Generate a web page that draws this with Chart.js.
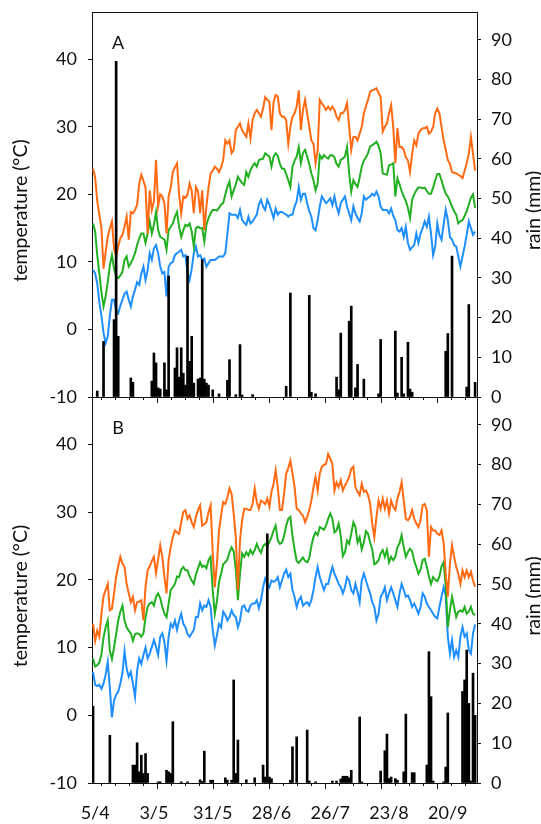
<!DOCTYPE html>
<html>
<head>
<meta charset="utf-8">
<script src="https://cdn.jsdelivr.net/npm/chart.js@4.4.1/dist/chart.umd.min.js"></script>
<style>
  html, body { margin: 0; padding: 0; background: #fff; }
  #wrap { position: relative; width: 541px; height: 824px; }
  canvas { position: absolute; left: 0; }
  #chartA { top: 0; }
  #chartB { top: 385px; }
</style>
</head>
<body>
<div id="wrap">
  <canvas id="chartA" width="541" height="420"></canvas>
  <canvas id="chartB" width="541" height="439"></canvas>
</div>
<script>
// days are counted from 5/4 (day 0); every series starts on day -1 (4/4), one value per day
const firstDay = -1;

// x axis labels and the days they sit on
const dateLabels = ['5/4', '3/5', '31/5', '28/6', '26/7', '23/8', '20/9'];
const labelDays = [0, 28, 56, 84, 112, 140, 168];
const tempTicks = [-10, 0, 10, 20, 30, 40];
const rainTicks = [0, 10, 20, 30, 40, 50, 60, 70, 80, 90];

// panel A - daily max / mean / min temperature (°C)
const tmaxA = [
  23.8, 22.5, 19, 17, 15, 9, 11.5, 13.7, 15, 16,
  12, 10.8, 12.3, 13.5, 14, 15.2, 16.7, 13.3, 17.4, 17.2,
  17.7, 18.5, 21.6, 22.9, 22, 21, 14.2, 20.6, 17.7, 19,
  25.1, 18.2, 20, 19.7, 18.7, 14.2, 19.7, 21, 23.3, 24,
  24.6, 20, 17.2, 19.7, 19.5, 20, 21.6, 20.5, 17.2, 21.1,
  20.5, 17.2, 20.6, 14.7, 18.2, 21, 23.1, 23.5, 24.1, 23.8,
  23.3, 24, 25.1, 28, 27.5, 28, 26.1, 26.6, 29.5, 30,
  30.5, 29.5, 29, 28.5, 30.5, 28.3, 31, 32, 32.5, 32,
  31.5, 32.7, 34.4, 34, 33.7, 29.5, 33.7, 34.7, 34.5, 32,
  31.5, 31.5, 31, 27.5, 30, 31.5, 32, 33, 35.4, 29.5,
  32.5, 34, 32, 30, 28, 27.5, 24.6, 26.6, 34, 33.5,
  33, 32.5, 33, 32.5, 33, 32.5, 31.5, 31, 32, 32,
  32.5, 33.5, 30, 26.6, 28.5, 28.5, 28, 29, 30, 32,
  33, 34, 35.2, 35.4, 35.5, 35.7, 35, 34.4, 29.3, 30,
  30.5, 32, 33.2, 30, 24.6, 29.8, 27, 27, 26.6, 25.5,
  25, 23.3, 26, 28, 27.3, 29, 29.5, 29.8, 29.8, 30,
  29, 29.3, 30, 32, 32.7, 32, 30, 28, 26.6, 25.1,
  24.5, 23.3, 23.2, 23.1, 22.9, 22.7, 22.4, 23.5, 24.6, 26,
  28.5, 26, 23.5
];
const tmeanA = [
  15.7, 14.5, 11, 8.3, 5.5, 3.4, 4.9, 7, 9.5, 11,
  9, 7.8, 7.6, 8, 8.5, 10.3, 10.8, 9.3, 9.8, 10.5,
  11.3, 12.5, 13.5, 14.2, 14.2, 12.8, 14.2, 16, 14.2, 15.5,
  17.4, 14.7, 13.7, 13.5, 13.3, 11.8, 14.7, 15.2, 15.7, 16.7,
  17.4, 15.2, 13.7, 14.7, 15.5, 15.3, 15.7, 14.5, 12.3, 15,
  15.2, 15, 15, 13, 15.5, 16.5, 17.2, 17.7, 17.7, 17.6,
  18, 18.5, 18.7, 20, 21.1, 21.9, 19.7, 20.6, 21.5, 22.6,
  22.1, 21.7, 21.4, 23.3, 22.6, 23.6, 24.2, 24.6, 24.1, 25.1,
  25.2, 25.3, 26.1, 25.8, 25.6, 24.1, 25.6, 26.1, 25.7, 24.5,
  23.8, 23.8, 23, 22.1, 21.1, 24.1, 25, 25.6, 27, 24.6,
  26.1, 26.6, 25.6, 24.5, 23.1, 22.1, 20.6, 21.6, 25.8, 25.3,
  25.8, 25.5, 25.3, 25.8, 25.8, 25.5, 24.5, 24.1, 25.1, 25.3,
  25.6, 27, 23.1, 20.4, 22.1, 21.5, 21.1, 22.5, 24.1, 25,
  25.5, 26.1, 27.1, 27.3, 27.5, 27.8, 27.2, 26.1, 23.1, 23,
  22.9, 24.3, 24.4, 24.6, 19.7, 22.4, 21.5, 20.5, 19.7, 19,
  18, 16.5, 19.2, 20, 20.6, 21, 21, 20.9, 21, 20.5,
  20.1, 20.1, 21, 22.1, 23, 23, 22.1, 21, 20.1, 19.7,
  19, 18.2, 17.5, 17, 15.7, 16, 16.2, 16.8, 17.5, 18.5,
  19.5, 20, 18
];
const tminA = [
  8.8, 8.3, 6.8, 4, 2, -0.5, -2, -1, 2, 4.4,
  4.4, 2.8, 2.4, 3.5, 4.4, 5.3, 5.6, 4.4, 3.4, 4.9,
  5.9, 7, 6.6, 8.3, 9.3, 7.3, 8.8, 11.3, 10.3, 12,
  12.5, 11.3, 9.3, 8.3, 8.5, 4.9, 9.3, 9.8, 10, 11,
  11.3, 11.5, 11.8, 10.8, 11, 8.3, 7.3, 9, 11.3, 12.3,
  10.8, 11, 10.3, 10.5, 9.3, 9.8, 10.3, 10.3, 10.3, 10.5,
  10.8, 10.8, 10.8, 11.3, 14.2, 17.2, 17, 17, 17, 16.5,
  17.7, 16.2, 15.8, 15.5, 16.7, 15.7, 16, 16.5, 17, 18.5,
  19.2, 18.2, 17.7, 19.2, 18.5, 17.5, 16.5, 17.9, 17, 17.4,
  17.4, 17.2, 17, 16.7, 17, 17, 18.2, 19, 21.1, 19.2,
  20.1, 20.1, 18.7, 17.5, 16.7, 15, 14.7, 16.2, 18.2, 19.7,
  19.2, 18.7, 19, 19.4, 18.4, 19.7, 18.2, 17.2, 18.7, 19.2,
  19.7, 18.2, 17.2, 16.2, 18.2, 17.2, 16.5, 16, 17.2, 19.7,
  19.2, 19.5, 19.7, 20.1, 19.8, 20.4, 19.7, 18.2, 17.7, 17.7,
  17.7, 17.2, 17.9, 16.8, 16.2, 14.7, 14.5, 15, 13.7, 15.2,
  12.8, 11.8, 12.2, 12.5, 14.2, 12.8, 14.2, 15, 16, 15.2,
  16.7, 14.2, 11, 12.3, 15.7, 14, 13.3, 15.5, 17.7, 16.2,
  13.7, 13.3, 12.5, 12.3, 10.8, 9.3, 10.8, 12.3, 14, 16,
  15, 14, 14.5
];
// panel A - rain (mm) on the days it fell
const rainDayA = [1, 4, 9, 10, 11, 17, 18, 27, 28, 29, 30, 31, 33, 34, 35,
  38, 39, 40, 41, 42, 43, 44, 45, 46, 47, 49, 50, 51, 52, 53, 54, 56, 59,
  63, 64, 67, 69, 70, 75, 91, 93, 102, 103, 105, 115, 116, 117, 121, 122,
  124, 125, 128, 135, 136, 143, 144, 146, 147, 149, 150, 151, 167, 168, 170,
  177, 178, 181];
const rainA = [1.5, 14, 19.5, 84.6, 15.3, 4.8, 3.7, 4, 11.1, 8.6, 2.3, 2, 8.6, 1.8, 30.5,
  7.3, 12.4, 5, 12.4, 6, 3, 35.5, 9, 15.3, 3.5, 4.5, 4.8, 34.6, 4.5, 3.5, 3, 1.8, 0.8,
  4.2, 9.4, 0.6, 13.2, 0.5, 0.6, 2.7, 26.2, 25.6, 1.2, 0.8, 5, 1.8, 16.1, 19.1, 22.9,
  2.3, 8.2, 4.5, 0.8, 14.5, 16.6, 1, 10, 0.8, 13.8, 2, 1.2, 11.5, 16, 35.5,
  2.5, 23.3, 3.7];

// panel B - daily max / mean / min temperature (°C)
const tmaxB = [
  13.5, 11, 12.5, 11.6, 15, 17.6, 18.5, 19.4, 15.5, 15.7,
  18, 20.5, 22, 23.4, 22.4, 21.9, 19.4, 18, 16.7, 17.5,
  15.5, 16.7, 16.8, 17, 14, 19, 21.4, 22, 22.8, 23.4,
  21, 23, 25.1, 23.4, 20.4, 18, 23, 24.8, 26.3, 27.3,
  27, 26.8, 28.5, 30, 30.3, 29, 29.5, 28.5, 27.8, 29.3,
  30.3, 31, 28, 28.2, 28.5, 30, 31, 24.1, 18.9, 22.4,
  27.3, 29.5, 31.5, 31.2, 32.2, 33.5, 32.7, 29.8, 26.3, 18.5,
  25.8, 28.8, 30.5, 30.5, 30.3, 30.3, 31.2, 33.5, 31.5, 30.5,
  31.7, 31.5, 31.2, 32, 30.8, 33, 34.2, 36.2, 33.7, 30.3,
  30.3, 32.7, 35.7, 36.5, 37.6, 35.7, 33.7, 30.5, 30.3, 29.8,
  29.5, 28.5, 29.3, 30.3, 31.7, 33.7, 35.2, 33.2, 35.7, 36.7,
  37, 37.1, 38.6, 37.9, 37.1, 33.2, 34.4, 33.7, 34.7, 33.2,
  33.9, 34.5, 35.2, 36.4, 36.7, 33.7, 33, 32.5, 34.2, 33,
  33.2, 32.5, 31.2, 28.3, 26.3, 29.3, 31.7, 30.5, 32, 30.5,
  31.7, 29.8, 31.7, 30.8, 30.3, 32, 33, 34.4, 31.7, 29,
  28.8, 29.3, 30.3, 29, 28.3, 27.8, 28.8, 31, 31.2, 30.3,
  23.4, 27.8, 27.3, 27.3, 26.8, 26.6, 27.3, 25.5, 21, 17.5,
  22.4, 25.1, 23.4, 21.9, 20.9, 19.4, 21.4, 20.4, 21.4, 20.4,
  21.2, 19.9, 19
];
const tmeanB = [
  8.4, 7.2, 7.4, 7.8, 9, 11.5, 13, 14, 9.5, 8.3,
  10, 12, 14, 15.3, 16.2, 14, 13, 12.5, 12.1, 11,
  12, 12.1, 12, 11.6, 12.1, 14.5, 16, 16.5, 16.7, 16.2,
  17.5, 18, 17.3, 16, 15, 14.5, 16.5, 18.5, 18.9, 19.4,
  20.5, 20.4, 21.5, 21.9, 21.4, 21.4, 20.5, 19.9, 19.4, 20.8,
  21.7, 22.6, 21.9, 22.1, 21.7, 22.9, 23.4, 18.5, 15, 16.8,
  19.7, 20.9, 22.3, 22.6, 23, 24.1, 24.8, 24.2, 21.5, 17,
  20.9, 23.9, 23.4, 24.1, 23.6, 24.4, 23.8, 24.4, 25.3, 24.5,
  24, 25, 25.3, 24.9, 25.6, 26.3, 27.3, 28, 25.8, 25.3,
  25.5, 26.5, 28, 29, 29.3, 26.5, 24.5, 22.8, 22.5, 22.9,
  23.3, 22.8, 22.6, 23.2, 25, 26.3, 27, 26.6, 27.8, 27.6,
  27.4, 28, 29, 29.8, 29, 27, 27.3, 28.3, 26.5, 23.5,
  24.1, 25.8, 25.3, 26.8, 28.5, 27.8, 25.5, 26.3, 24.5, 25.5,
  27.2, 26.8, 25.5, 24.5, 22.3, 22.5, 22.9, 23.9, 24.4, 23.4,
  24.4, 22.6, 23.4, 22.9, 23.4, 24.8, 25.4, 26.6, 24.8, 23.4,
  24.1, 24.6, 24.2, 22.8, 21.9, 20.9, 21.5, 22.9, 23.1, 21.9,
  20.5, 19.4, 20.4, 20, 19.8, 20.5, 22, 22.6, 19, 13,
  15.5, 17.5, 16, 14.5, 15.3, 15.5, 15.3, 16, 15, 15.3,
  16, 15, 14.8
];
const tminB = [
  6.4, 4.5, 4.3, 4.5, 3.9, 4.7, 6, 7.9, 4, -0.3,
  2.2, 3, 3.5, 4.7, 6.2, 9.5, 6.9, 5.7, 6.4, 4.7,
  2.7, 6.6, 8.4, 7.6, 8.9, 10, 8.4, 9.1, 10.1, 11.1,
  10.1, 8.9, 11.6, 12.1, 10.8, 8.1, 11.6, 13.5, 13, 14,
  12.6, 14, 15, 13.5, 13, 12, 11.6, 12.1, 12.6, 14.5,
  14.5, 16.5, 15.5, 16.2, 16, 17, 16, 12.6, 10.3, 11.8,
  13.5, 13, 15.3, 14.8, 14, 14.5, 15.5, 14.8, 14.5, 13,
  14, 16, 16.2, 15.5, 15.3, 16.2, 16.5, 16.5, 17, 15.8,
  17, 18.9, 20.2, 19.4, 18.9, 19.9, 19.7, 19.9, 20.4, 18.9,
  19.9, 20.9, 21.5, 20.4, 20.9, 18.5, 17.5, 16, 17, 17.5,
  16.2, 16.5, 16.7, 16.2, 17, 18.5, 20.4, 21.9, 20.4, 19.4,
  18.5, 19.4, 19.4, 20.7, 21.9, 20.9, 20.2, 19.4, 18.9, 18,
  18.9, 20.4, 19.9, 18.5, 18, 19.4, 18.2, 16.7, 19.9, 20.9,
  19.9, 18.9, 18, 16.7, 16, 14, 15, 17.5, 18, 18.9,
  17, 18, 18.9, 18, 17, 16, 18, 19.4, 18.5, 17.5,
  17.7, 17, 16, 16.5, 15.8, 15, 16, 18, 17.5, 16.5,
  16, 15.5, 15, 14.5, 14.3, 16, 17.5, 18.9, 17.7, 11.6,
  9.1, 11.1, 8.6, 9.6, 8.6, 11.6, 13, 11.6, 12.1, 9.6,
  9.1, 12.1, 13.4
];
// panel B - rain (mm)
const rainDayB = [-1, 7, 18, 19, 20, 21, 22, 23, 24, 25, 30, 31, 34, 35, 36, 37,
  41, 44, 50, 51, 52, 55, 56, 62, 63, 65, 66, 67, 68, 72, 76, 80, 81, 82, 83, 84,
  93, 94, 96, 101, 102, 105, 113, 115, 117, 118, 119, 120, 121, 122, 126, 127,
  136, 138, 139, 140, 141, 143, 144, 147, 148, 151, 152, 158, 159, 160, 161,
  166, 167, 168, 175, 176, 177, 178, 179, 180, 181];
const rainB = [19.3, 12, 4.5, 4.5, 10.1, 2.8, 7, 2.4, 7.4, 2.4, 0.3, 0.3, 3.2, 2.8, 2.4, 15.4,
  0.3, 0.3, 0.8, 0.4, 8, 0.7, 0.7, 1.3, 0.7, 0.7, 25.9, 2.4, 10.8, 0.8, 1.3, 4.5, 1.5, 62.6, 1.5, 1.1,
  0.7, 9.1, 11.6, 13.3, 0.5, 0.3, 0.5, 0.5, 1, 1.7, 1.7, 1.7, 1.3, 3.2, 16.6, 0.3,
  3, 8.1, 12.3, 1.1, 1.5, 1.1, 0.7, 2.8, 17.3, 2.6, 2.6, 4.5, 33, 21.7, 0.5,
  0.3, 4, 17.6, 23, 25.9, 33.4, 20, 0.5, 27.6, 17];

// small tick marks along the date axis (day of first mark, spacing in days)
const markStart = 2.65;
const markStep = 6.68;

const ORANGE = '#ff6a13';
const GREEN = '#22b022';
const BLUE = '#1f8fff';
const AXIS = '#111';
const TEXT = '#111';
const FONT = 'Lato, "Liberation Sans", sans-serif';

Chart.defaults.font.family = FONT;
Chart.defaults.font.size = 18;
Chart.defaults.color = TEXT;

function series(values) {
  return values.map((v, i) => ({ x: firstDay + i, y: v }));
}
function bars(days, values) {
  return days.map((d, i) => ({ x: d, y: values[i] }));
}
// stop chart.js from reserving room for half a tick label above / below the plot
function noEdgePad(s) {
  s.paddingTop = 0;
  s.paddingBottom = 0;
  s.paddingLeft = 0;
  s.paddingRight = 0;
}

// titles, panel letter, top frame and date-axis tick marks
const decor = {
  id: 'decor',
  afterDraw(chart, args, opts) {
    const ctx = chart.ctx;
    const ca = chart.chartArea;
    const sx = chart.scales.x;
    ctx.save();
    ctx.strokeStyle = AXIS;
    ctx.lineWidth = 1;
    if (opts.frameTop) {
      ctx.beginPath();
      ctx.moveTo(ca.left, Math.round(ca.top) + 0.5);
      ctx.lineTo(ca.right, Math.round(ca.top) + 0.5);
      ctx.stroke();
    }
    const yb = Math.round(ca.bottom);
    for (let k = 0; ; k++) {
      const d = markStart + k * markStep;
      if (d > sx.max) break;
      const px = Math.round(sx.getPixelForValue(d)) + 0.5;
      const len = (k > 0 && k % 4 === 0) ? 6 : 3;
      ctx.beginPath();
      ctx.moveTo(px, yb);
      ctx.lineTo(px, yb + len);
      ctx.stroke();
    }
    ctx.fillStyle = TEXT;
    ctx.font = '18px ' + FONT;
    ctx.textAlign = 'center';
    ctx.textBaseline = 'middle';
    ctx.fillText(opts.letter, ca.left + 26, ca.top + 31);
    ctx.font = '19.5px ' + FONT;
    const cy = (ca.top + ca.bottom) / 2 + 6;
    ctx.translate(21, cy);
    ctx.rotate(-Math.PI / 2);
    ctx.fillText('temperature (°C)', 0, 0);
    ctx.setTransform(1, 0, 0, 1, 0, 0);
    ctx.translate(534, cy);
    ctx.rotate(-Math.PI / 2);
    ctx.fillText('rain (mm)', 0, 0);
    ctx.restore();
  }
};

function makeChart(id, tmax, tmean, tmin, rainDays, rain, letter, showDates, topPad, xHeight) {
  return new Chart(document.getElementById(id), {
    type: 'line',
    data: {
      datasets: [
        { type: 'bar', data: bars(rainDays, rain), yAxisID: 'y1', backgroundColor: '#000',
          barThickness: 2, grouped: false, order: 0 },
        { data: series(tmax), borderColor: ORANGE, borderWidth: 2, pointRadius: 0, tension: 0, yAxisID: 'y', order: 1 },
        { data: series(tmean), borderColor: GREEN, borderWidth: 2, pointRadius: 0, tension: 0, yAxisID: 'y', order: 1 },
        { data: series(tmin), borderColor: BLUE, borderWidth: 2, pointRadius: 0, tension: 0, yAxisID: 'y', order: 1 }
      ]
    },
    options: {
      responsive: false,
      animation: false,
      events: [],
      layout: { padding: { top: topPad, left: 0, right: 0, bottom: 0 } },
      plugins: {
        legend: { display: false },
        tooltip: { enabled: false },
        decor: { letter: letter, frameTop: letter === 'A' }
      },
      scales: {
        x: {
          type: 'linear',
          min: -1.5,
          max: 181.9,
          offset: false,
          grid: { display: false, drawTicks: false },
          border: { display: true, color: AXIS, width: 1 },
          afterBuildTicks: (s) => { s.ticks = labelDays.map(d => ({ value: d })); },
          afterFit: (s) => { s.height = xHeight; noEdgePad(s); },
          ticks: {
            display: showDates,
            autoSkip: false,
            maxRotation: 0,
            padding: 19,
            color: TEXT,
            callback: (v) => dateLabels[labelDays.indexOf(v)]
          }
        },
        y: {
          position: 'left',
          min: -10,
          max: 47,
          afterBuildTicks: (s) => { s.ticks = tempTicks.map(v => ({ value: v })); },
          afterFit: (s) => { s.width = 92; noEdgePad(s); },
          grid: { drawOnChartArea: false, tickLength: 4, color: AXIS },
          border: { color: AXIS, width: 1 },
          ticks: { padding: 11, color: TEXT }
        },
        y1: {
          position: 'right',
          min: 0,
          max: 97,
          afterBuildTicks: (s) => { s.ticks = rainTicks.map(v => ({ value: v })); },
          afterFit: (s) => { s.width = 64; noEdgePad(s); },
          grid: { drawOnChartArea: false, tickLength: 4, color: AXIS },
          border: { color: AXIS, width: 1 },
          ticks: { padding: 10, color: TEXT }
        }
      }
    },
    plugins: [decor]
  });
}

makeChart('chartA', tmaxA, tmeanA, tminA, rainDayA, rainA, 'A', false, 12, 23);
makeChart('chartB', tmaxB, tmeanB, tminB, rainDayB, rainB, 'B', true, 12, 41);
</script>
</body>
</html>
